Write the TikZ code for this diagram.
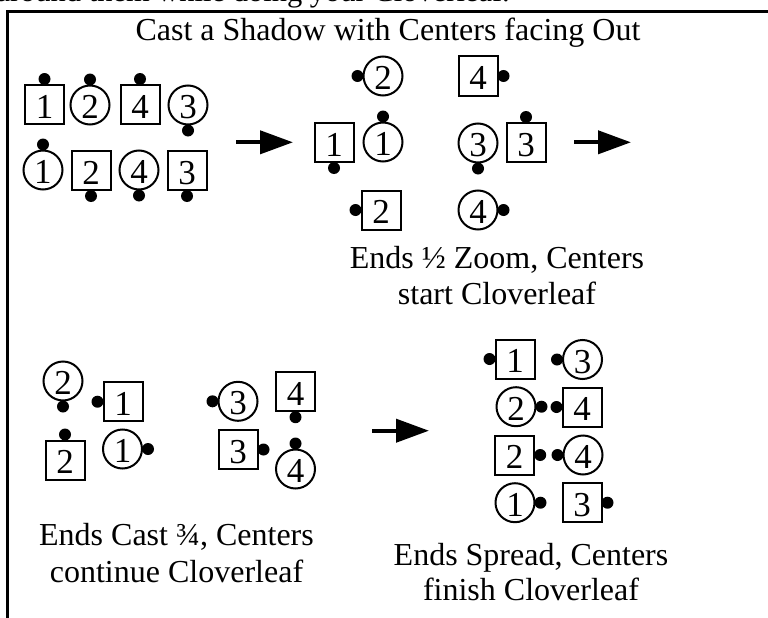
\documentclass[tikz,border=0pt]{standalone}
\usepackage{fontspec}
\setmainfont{Liberation Serif}
\usetikzlibrary{arrows.meta}
% style, name, position, digit, anchor of the dot, canvas offset of the dot
\newcommand{\dancer}[6]{%
  \node[#1] (#2) at (#3) {#4};
  \node[dot] (#2d) at ([shift={(#6)}]#2.#5) {};}
\begin{document}
\begin{tikzpicture}[x=1pt,y=-1pt,
  every node/.style={font=\fontsize{32}{36}\selectfont},
  sq/.style={draw, line width=2pt, rectangle, minimum size=39pt, inner sep=0pt,
    text height=27pt, text depth=0pt, font=\fontsize{35}{40}\selectfont},
  ci/.style={sq, circle},
  dot/.style={circle, fill=black, draw=none, minimum size=12pt, inner sep=0pt, outer sep=0pt},
  captxt/.style={anchor=base, inner sep=0pt},
  bigarrow/.style={line width=4pt, -{Triangle[length=33pt,width=23pt]}}]
\useasboundingbox (0,0) rectangle (768,618);
\clip (0,0) rectangle (768,618);
% clipped line of text above the frame
\node[anchor=base east, inner sep=0pt, font=\fontsize{30.5}{36}\selectfont] (toptext) at (510,2) {around them while doing your Cloverleaf.};
% frame
\draw[line width=3.3pt, line join=miter] (780,11.3) -- (7.5,11.3) -- (7.5,630);
% title
\node[captxt] (title) at (388,41) {Cast a Shadow with Centers facing Out};
% group 1
\dancer{sq}{ga1}{44.5,104.5}{1}{north}{0pt,5pt}
\dancer{ci}{ga2}{90,105}{2}{north}{0pt,5pt}
\dancer{sq}{ga4}{140,104.5}{4}{north}{0pt,5pt}
\dancer{ci}{ga3}{188,105}{3}{south}{0pt,-5pt}
\dancer{ci}{gb1}{43,170}{1}{north}{0pt,5pt}
\dancer{sq}{gb2}{91,170.5}{2}{south}{0pt,-5pt}
\dancer{ci}{gb4}{139,170}{4}{south}{0pt,-5pt}
\dancer{sq}{gb3}{187,170.5}{3}{south}{0pt,-5pt}
% arrow 1
\coordinate (a1s) at (236,142.3);
\coordinate (a1e) at (293,142.3);
\draw[bigarrow] (a1s) -- (a1e);
% group 2
\dancer{ci}{hc2}{383,76}{2}{west}{-5pt,0pt}
\dancer{sq}{hs4}{478,76}{4}{east}{5pt,0pt}
\dancer{sq}{hs1}{334,142.5}{1}{south}{0pt,-5pt}
\dancer{ci}{hc1}{383,142}{1}{north}{0pt,5pt}
\dancer{ci}{hc3}{478,143}{3}{south}{0pt,-5pt}
\dancer{sq}{hs3}{526,142.5}{3}{north}{0pt,5pt}
\dancer{sq}{hs2}{381,210}{2}{west}{-5pt,0pt}
\dancer{ci}{hc4}{478,210}{4}{east}{5pt,0pt}
% arrow 2
\coordinate (a2s) at (574,142.3);
\coordinate (a2e) at (631,142.3);
\draw[bigarrow] (a2s) -- (a2e);
\node[captxt] (cap2a) at (497,268.3) {Ends ½ Zoom, Centers};
\node[captxt] (cap2b) at (497,304) {start Cloverleaf};
% group 3
\dancer{ci}{kc2}{63,381}{2}{south}{0pt,-5pt}
\dancer{sq}{ks1}{123,401.7}{1}{west}{-5pt,0pt}
\dancer{sq}{ks2}{65,460}{2}{north}{0pt,5pt}
\dancer{ci}{kc1}{122.5,449}{1}{east}{5pt,0pt}
\dancer{ci}{kc3}{238,401.3}{3}{west}{-5pt,0pt}
\dancer{sq}{ks4}{295.5,391.7}{4}{south}{0pt,-5pt}
\dancer{sq}{ks3}{238,449.5}{3}{east}{5pt,0pt}
\dancer{ci}{kc4}{295.5,469}{4}{north}{0pt,5pt}
\node[captxt] (cap3a) at (176.5,545.7) {Ends Cast ¾, Centers};
\node[captxt] (cap3b) at (176.5,582.7) {continue Cloverleaf};
% arrow 3
\coordinate (a3s) at (372,430.7);
\coordinate (a3e) at (429,430.7);
\draw[bigarrow] (a3s) -- (a3e);
% group 4
\dancer{sq}{ms1}{515,359}{1}{west}{-5pt,0pt}
\dancer{ci}{mc3}{582.5,359.5}{3}{west}{-5pt,0pt}
\dancer{ci}{mc2}{516,406.7}{2}{east}{5pt,0pt}
\dancer{sq}{ms4}{582,407}{4}{west}{-5pt,0pt}
\dancer{sq}{ms2}{514.7,455}{2}{east}{5pt,0pt}
\dancer{ci}{mc4}{583,455}{4}{west}{-5pt,0pt}
\dancer{ci}{mc1}{515,502.7}{1}{east}{5pt,0pt}
\dancer{sq}{ms3}{582,502.7}{3}{east}{5pt,0pt}
\node[captxt] (cap4a) at (531,565) {Ends Spread, Centers};
\node[captxt] (cap4b) at (531,600) {finish Cloverleaf};
\end{tikzpicture}
\end{document}
